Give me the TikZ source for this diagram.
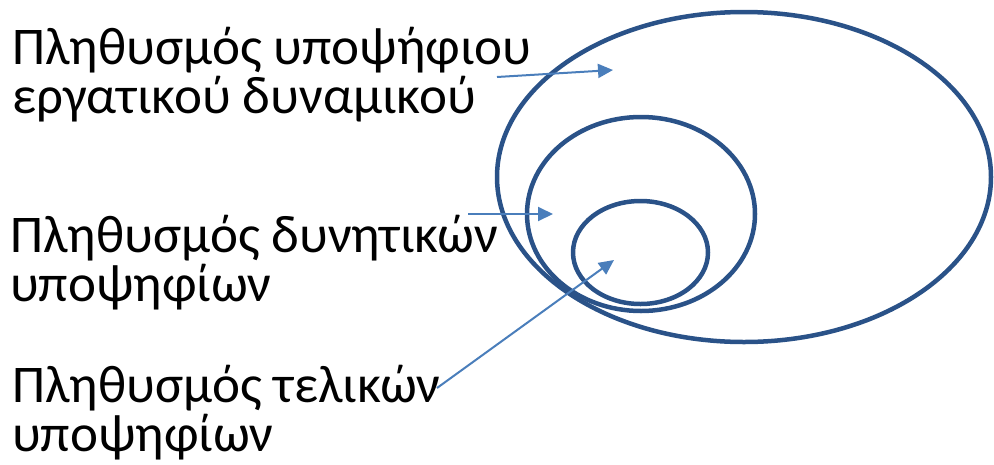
\documentclass[tikz,border=0pt]{standalone}
\usepackage{fontspec}
\setmainfont{Carlito}
\usepackage{xcolor}
\usetikzlibrary{arrows.meta,positioning,shapes.geometric}
\definecolor{ringblue}{HTML}{2A5288}
\definecolor{arrowblue}{HTML}{4A7EBB}
\tikzset{
  setring/.style={ellipse,draw=ringblue,line width=4.5pt,inner sep=0pt},
  poplabel/.style={align=left,inner sep=0pt,anchor=base west,font=\fontsize{53}{49}\selectfont},
  arrow/.style={-{Triangle[length=15pt,width=14pt]},line width=2pt,draw=arrowblue}
}

\begin{document}
\begin{tikzpicture}[x=1pt,y=-1pt]
  \useasboundingbox (0,0) rectangle (994,464);
  \node[setring,minimum width=494pt,minimum height=330pt] (outer) at (744,177) {};
  \node[setring,minimum width=228pt,minimum height=194pt] (middle) at (641,214) {};
  \node[setring,minimum width=135pt,minimum height=103pt] (inner) at (640.5,252.5) {};

  % the base anchor sits on the last line
  \node[poplabel] (workforce) at (12,113) {Πληθυσμός υποψήφιου\\εργατικού δυναμικού};
  \node[poplabel] (potential) at (10,301) {Πληθυσμός δυνητικών\\υποψηφίων};
  \node[poplabel] (final) at (12,451) {Πληθυσμός τελικών\\υποψηφίων};

  \coordinate (workforce-tail) at (497,77);
  \coordinate (workforce-tip) at (613,70);
  \coordinate (potential-tail) at (468,214);
  \coordinate (potential-tip) at (553,214);
  \coordinate (final-tail) at (437,388);
  \coordinate (final-tip) at (614,260);

  \draw[arrow] (workforce-tail) -- (workforce-tip);
  \draw[arrow] (potential-tail) -- (potential-tip);
  \draw[arrow] (final-tail) -- (final-tip);
\end{tikzpicture}
\end{document}
